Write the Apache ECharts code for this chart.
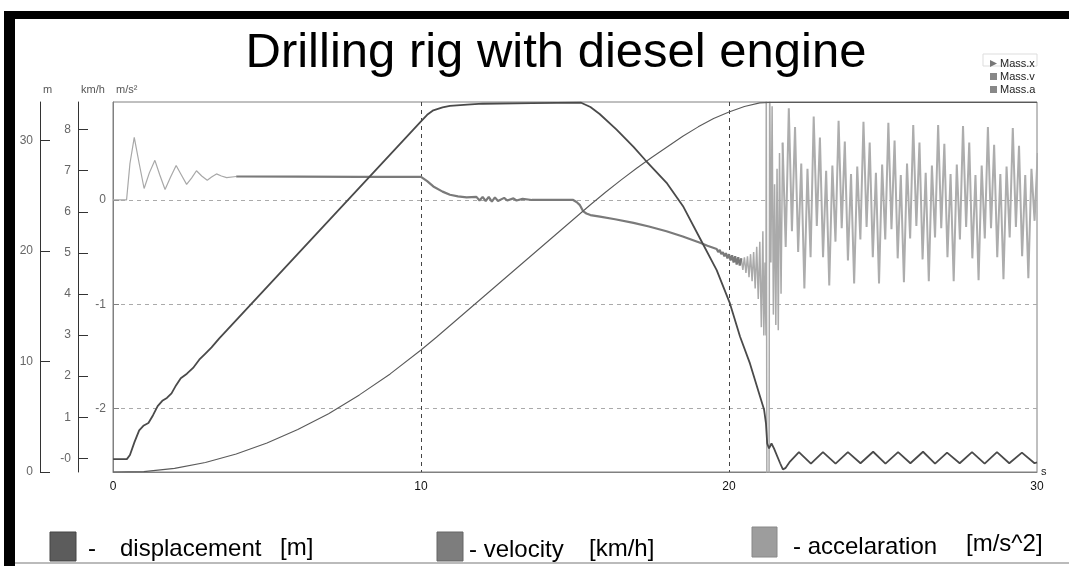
<!DOCTYPE html>
<html>
<head>
<meta charset="utf-8">
<title>Drilling rig with diesel engine</title>
<script src="https://cdn.jsdelivr.net/npm/echarts@6/dist/echarts.min.js"></script>
<style>
  html, body { margin: 0; padding: 0; background: #fff; }
  #chart { width: 1069px; height: 566px; }
</style>
</head>
<body>
<div id="chart"></div>
<script>
// displacement [m], pairs of [t s, x m]
const massX = [
  [0, 0], [1, 0.03], [2, 0.33], [3, 0.86], [4, 1.63], [5, 2.62], [6, 3.85], [7, 5.28],
  [8, 6.98], [9, 8.88], [10, 11.05], [10.5, 12.2], [11, 13.4], [11.5, 14.6], [12, 15.8],
  [12.5, 17.0], [13, 18.2], [13.5, 19.4], [14, 20.6], [14.5, 21.8], [15, 23.0], [15.5, 24.2],
  [16, 25.35], [16.5, 26.45], [17, 27.5], [17.5, 28.5], [18, 29.45], [18.5, 30.4], [19, 31.25],
  [19.5, 32.0], [20, 32.6], [20.5, 33.1], [21, 33.42], [21.3, 33.46], [22, 33.47], [30, 33.47]
]

// velocity [km/h]
const massV = [
  [0, -0.02], [0.45, -0.02], [0.55, 0.08], [0.7, 0.4], [0.85, 0.68], [1.0, 0.8], [1.15, 0.86],
  [1.3, 1.05], [1.45, 1.27], [1.6, 1.4], [1.75, 1.47], [1.9, 1.58], [2.05, 1.78], [2.2, 1.95],
  [2.4, 2.06], [2.6, 2.2], [2.8, 2.4], [3.0, 2.55], [3.2, 2.7], [3.45, 2.92], [3.7, 3.12],
  [10.0, 8.2], [10.2, 8.36], [10.4, 8.47], [10.7, 8.54], [10.94, 8.58], [11.5, 8.61], [12.0, 8.63],
  [13.6, 8.645], [15.2, 8.655], [15.5, 8.55], [15.8, 8.38], [16.35, 8.0], [16.9, 7.58],
  [17.28, 7.26], [17.99, 6.69], [18.52, 6.12], [19.06, 5.35], [19.6, 4.58], [20.03, 3.77],
  [20.36, 2.96], [20.68, 2.31], [21.01, 1.5], [21.14, 1.18], [21.2, 0.85], [21.24, 0.36],
  [21.3, 0.24], [21.38, 0.36], [21.46, 0.24], [21.66, -0.12], [21.75, -0.27], [21.83, -0.24],
  [21.98, -0.08], [22.27, 0.15], [22.66, -0.13], [23.05, 0.15], [23.46, -0.13], [23.86, 0.15],
  [24.27, -0.12], [24.68, 0.16], [25.08, -0.13], [25.49, 0.15], [25.89, -0.12], [26.30, 0.16],
  [26.69, -0.13], [27.08, 0.14], [27.49, -0.12], [27.89, 0.15], [28.3, -0.13], [28.7, 0.15],
  [29.1, -0.12], [29.51, 0.14], [29.92, -0.12], [30, -0.1]
]

// acceleration [m/s^2], start-up ringing
const massAStart = [
  [0, 0], [0.44, 0], [0.55, 0.35], [0.69, 0.6], [0.85, 0.35], [1.01, 0.11], [1.18, 0.26],
  [1.36, 0.38], [1.52, 0.24], [1.69, 0.1], [1.87, 0.22], [2.05, 0.33], [2.22, 0.24],
  [2.39, 0.15], [2.55, 0.21], [2.71, 0.28], [2.88, 0.23], [3.06, 0.19], [3.2, 0.22],
  [3.36, 0.25], [3.52, 0.23], [3.69, 0.215], [4.0, 0.225]
]

// acceleration, cruise and braking
const massAMid = [
  [4.0, 0.225], [6, 0.224], [8, 0.222], [10, 0.222], [10.2, 0.18], [10.4, 0.13], [10.7, 0.08],
  [10.94, 0.05], [11.2, 0.035], [11.48, 0.025], [11.8, 0.03], [11.9, -0.005], [12.0, 0.03],
  [12.1, -0.01], [12.2, 0.03], [12.3, -0.015], [12.4, 0.025], [12.5, -0.01], [12.7, 0.02],
  [12.8, -0.005], [13.0, 0.015], [13.1, -0.005], [13.3, 0.01], [13.6, 0.0], [14.94, 0.0],
  [15.05, -0.02], [15.16, -0.05], [15.27, -0.11], [15.37, -0.13], [15.5, -0.145], [15.81, -0.16],
  [16.3, -0.185], [16.9, -0.22], [17.4, -0.255], [17.97, -0.3], [18.5, -0.35], [19.06, -0.41],
  [19.3, -0.44], [19.6, -0.47], [19.65, -0.5], [19.7, -0.48], [19.75, -0.52], [19.8, -0.5],
  [19.85, -0.54], [19.9, -0.51], [19.95, -0.56], [20.0, -0.52], [20.05, -0.58], [20.1, -0.53],
  [20.15, -0.6], [20.2, -0.54], [20.25, -0.62], [20.3, -0.55], [20.35, -0.63], [20.4, -0.56]
]

// acceleration, noisy end of braking and stop impact
const massASpike = [
  [20.4, -0.56], [20.45, -0.67], [20.5, -0.55], [20.55, -0.7], [20.6, -0.54], [20.65, -0.74],
  [20.7, -0.52], [20.75, -0.78], [20.8, -0.5], [20.85, -0.85], [20.9, -0.45], [20.95, -0.95],
  [21.0, -0.4], [21.05, -1.22], [21.1, -0.3], [21.13, -1.3], [21.17, -0.6],
  [21.2, -1.3], [21.21, 1.2], [21.23, -2.9], [21.3, -2.9], [21.32, 1.2],
  [21.36, -0.6], [21.4, 0.9], [21.44, -1.1], [21.48, 0.15], [21.52, -1.2], [21.56, 0.3],
  [21.6, -1.25], [21.64, 0.45], [21.69, -0.9], [21.74, 0.55]
]

// acceleration after stop, sampled every tailStep seconds from tailStart
const tailStart = 21.74
const tailStep = 0.101
const massATail = [
  0.55, -0.45, 0.88, -0.3, 0.7, -0.5, 0.35, -0.85,
  0.3, -0.55, 0.8, -0.25, 0.6, -0.55, 0.28, -0.82,
  0.33, -0.4, 0.76, -0.27, 0.56, -0.58, 0.25, -0.8,
  0.32, -0.38, 0.75, -0.26, 0.55, -0.55, 0.26, -0.8,
  0.34, -0.38, 0.74, -0.28, 0.57, -0.56, 0.24, -0.79,
  0.35, -0.37, 0.72, -0.25, 0.55, -0.57, 0.26, -0.78,
  0.33, -0.36, 0.72, -0.27, 0.54, -0.55, 0.25, -0.78,
  0.34, -0.38, 0.71, -0.26, 0.55, -0.56, 0.24, -0.77,
  0.33, -0.37, 0.7, -0.27, 0.53, -0.55, 0.25, -0.76,
  0.32, -0.36, 0.69, -0.26, 0.52, -0.54, 0.24, -0.75,
  0.3, -0.2, 0.45
]

const xTicks = [0, 10, 20, 30]
const mTicks = [0, 10, 20, 30]
const kmhTicks = [0, 1, 2, 3, 4, 5, 6, 7, 8]
const accTicks = [-2, -1, 0]

const chart = echarts.init(document.getElementById('chart'))

const tailData = massATail.map((v, i) => [tailStart + i * tailStep, v])

const labelStyle = { color: '#666', fontSize: 12, fontFamily: 'Liberation Sans', margin: 7 }
const nameStyle = { color: '#555', fontSize: 11, fontFamily: 'Liberation Sans', align: 'left', padding: [0, 0, 0, 3] }
const legendFont = { fontSize: 24, fill: '#000', fontFamily: 'Liberation Sans', verticalAlign: 'middle' }

function yAxisBase (opts) {
  return Object.assign({
    type: 'value',
    position: 'left',
    nameGap: 7,
    nameTextStyle: nameStyle,
    axisLine: { show: true, onZero: false, lineStyle: { color: '#333' } },
    splitLine: { show: false }
  }, opts)
}

chart.setOption({
  animation: false,
  backgroundColor: '#fff',
  title: {
    text: 'Drilling rig with diesel engine',
    left: 551,
    textAlign: 'center',
    top: 24,
    textStyle: { fontSize: 49, fontWeight: 'normal', color: '#000', fontFamily: 'Liberation Sans' }
  },
  legend: {
    orient: 'vertical',
    left: 985,
    top: 53,
    itemWidth: 7,
    itemHeight: 7,
    itemGap: 2,
    textStyle: { fontSize: 11, color: '#222', fontFamily: 'Liberation Sans', padding: [0, 0, 0, -2] },
    data: [
      { name: 'Mass.x', icon: 'path://M0,0L10,5L0,10Z', itemStyle: { color: '#777' } },
      { name: 'Mass.v', icon: 'rect', itemStyle: { color: '#888' } },
      { name: 'Mass.a', icon: 'rect', itemStyle: { color: '#888' } }
    ]
  },
  grid: {
    left: 113,
    right: 32,
    top: 102,
    bottom: 94,
    show: true,
    borderColor: '#808080',
    borderWidth: 1
  },
  xAxis: {
    type: 'value',
    min: xTicks[0],
    max: xTicks[xTicks.length - 1],
    interval: 10,
    name: 's',
    nameGap: 4,
    nameTextStyle: { color: '#222', fontSize: 11, padding: [0, 0, 12, 0] },
    axisLine: { lineStyle: { color: '#808080' } },
    axisTick: { show: false },
    axisLabel: { color: '#111', fontSize: 12, margin: 9, fontFamily: 'Liberation Sans' },
    splitLine: {
      show: true,
      showMinLine: false,
      showMaxLine: false,
      lineStyle: { color: '#444', type: [4, 4], width: 1 }
    }
  },
  yAxis: [
    yAxisBase({
      offset: 73,
      min: 0,
      max: 33.5,
      name: 'm',
      axisTick: { show: true, inside: true, length: 10, customValues: mTicks, lineStyle: { color: '#333' } },
      axisLabel: Object.assign({}, labelStyle, { customValues: mTicks })
    }),
    yAxisBase({
      offset: 35,
      min: -0.333,
      max: 8.672,
      name: 'km/h',
      axisTick: { show: true, inside: true, length: 10, customValues: kmhTicks, lineStyle: { color: '#333' } },
      axisLabel: Object.assign({}, labelStyle, {
        customValues: kmhTicks,
        formatter: function (v) { return v === 0 ? '-0' : String(v) }
      })
    }),
    yAxisBase({
      offset: 0,
      min: -2.61,
      max: 0.94,
      name: 'm/s²',
      axisLine: { show: true, onZero: false, lineStyle: { color: '#808080' } },
      axisTick: { show: true, inside: true, length: 6, customValues: accTicks, lineStyle: { color: '#808080' } },
      axisLabel: Object.assign({}, labelStyle, { customValues: accTicks }),
      splitLine: {
        show: true,
        lineStyle: { color: '#aaa', type: [4, 4], width: 1 }
      }
    })
  ],
  series: [
    {
      name: 'Mass.a',
      type: 'line',
      yAxisIndex: 2,
      showSymbol: false,
      data: tailData,
      lineStyle: { color: '#adadad', width: 2 },
      itemStyle: { color: '#888' },
      z: 1
    },
    {
      name: 'Mass.a',
      type: 'line',
      yAxisIndex: 2,
      showSymbol: false,
      data: massASpike,
      lineStyle: { color: '#aaaaaa', width: 1.5 },
      itemStyle: { color: '#888' },
      z: 1
    },
    {
      name: 'Mass.a',
      type: 'line',
      yAxisIndex: 2,
      showSymbol: false,
      data: massAStart,
      lineStyle: { color: '#a8a8a8', width: 1.2 },
      itemStyle: { color: '#888' },
      z: 2
    },
    {
      name: 'Mass.a',
      type: 'line',
      yAxisIndex: 2,
      showSymbol: false,
      data: massAMid,
      lineStyle: { color: '#7a7a7a', width: 2.2 },
      itemStyle: { color: '#888' },
      z: 2
    },
    {
      name: 'Mass.x',
      type: 'line',
      yAxisIndex: 0,
      showSymbol: false,
      data: massX,
      lineStyle: { color: '#5a5a5a', width: 1.1 },
      itemStyle: { color: '#777' },
      z: 3
    },
    {
      name: 'Mass.v',
      type: 'line',
      yAxisIndex: 1,
      showSymbol: false,
      data: massV,
      lineStyle: { color: '#4a4a4a', width: 1.8 },
      itemStyle: { color: '#888' },
      z: 4
    }
  ],
  graphic: [
    { type: 'rect', shape: { x: 4, y: 11, width: 1065, height: 8 }, style: { fill: '#000' } },
    { type: 'rect', shape: { x: 4, y: 11, width: 11, height: 555 }, style: { fill: '#000' } },
    { type: 'rect', shape: { x: 15, y: 562, width: 1054, height: 2 }, style: { fill: '#bbb' } },
    { type: 'rect', shape: { x: 983, y: 54, width: 54, height: 12 }, style: { fill: 'none', stroke: '#ddd', lineWidth: 1 } },
    { type: 'rect', shape: { x: 50, y: 532, width: 26, height: 29 }, style: { fill: '#5c5c5c', stroke: '#444', lineWidth: 1 } },
    { type: 'rect', shape: { x: 437, y: 532, width: 26, height: 29 }, style: { fill: '#7d7d7d', stroke: '#666', lineWidth: 1 } },
    { type: 'rect', shape: { x: 752, y: 527, width: 25, height: 30 }, style: { fill: '#9d9d9d', stroke: '#888', lineWidth: 1 } },
    { type: 'text', x: 88, y: 549, style: Object.assign({ text: '-' }, legendFont) },
    { type: 'text', x: 120, y: 549, style: Object.assign({ text: 'displacement' }, legendFont) },
    { type: 'text', x: 280, y: 548, style: Object.assign({ text: '[m]' }, legendFont) },
    { type: 'text', x: 469, y: 550, style: Object.assign({ text: '- velocity' }, legendFont) },
    { type: 'text', x: 589, y: 549, style: Object.assign({ text: '[km/h]' }, legendFont) },
    { type: 'text', x: 793, y: 547, style: Object.assign({ text: '- accelaration' }, legendFont) },
    { type: 'text', x: 966, y: 544, style: Object.assign({ text: '[m/s^2]' }, legendFont) }
  ]
})
</script>
</body>
</html>
